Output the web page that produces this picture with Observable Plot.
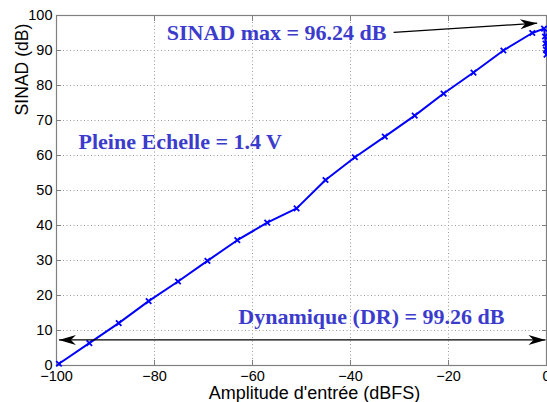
<!DOCTYPE html>
<html><head><meta charset="utf-8">
<script src="https://cdn.jsdelivr.net/npm/d3@7"></script>
<script src="https://cdn.jsdelivr.net/npm/@observablehq/plot@0.6"></script>
<style>body{margin:0;background:#fff}</style>
</head><body><div id="chart"></div>
<script>
// Data
const amplitude = [-99.5, -93.3, -87.3, -81.2, -75.2, -69.2, -63.1, -57.0, -51.0, -45.1, -39.1, -33.0, -26.9, -21.0, -14.9, -8.8, -2.9, -0.5, -0.3, -0.2, -0.1, 0];
const sinad     = [0.5, 6.4, 12.1, 18.4, 24.0, 29.9, 35.8, 40.8, 44.9, 53.0, 59.5, 65.4, 71.4, 77.7, 83.7, 90.0, 95.0, 96.24, 94.0, 92.0, 90.2, 88.8];
const xTicks = [-100, -80, -60, -40, -20, 0];
const yTicks = [0, 10, 20, 30, 40, 50, 60, 70, 80, 90, 100];
const xLabel = "Amplitude d'entrée (dBFS)";
const yLabel = "SINAD (dB)";
const noteText = ["SINAD max = 96.24 dB", "Pleine Echelle = 1.4 V", "Dynamique (DR) = 99.26 dB"];
const noteX = [-77.5, -95.5, -62.9];
const noteY = [95.0, 64.0, 13.9];
// arrows
const maxArrowX = [-31.2, -1.9];
const maxArrowY = [95.2, 97.8];
const drArrowX = [-99.5, -0.2];
const drArrowY = 7.3;

const W = 547, H = 402, ML = 56, MR = 1, MT = 15, MB = 37;
const points = amplitude.map((x, i) => ({x, y: sinad[i]}));
const notes = noteText.map((t, i) => ({t, x: noteX[i], y: noteY[i]}));

const sx = Plot.scale({x: {domain: [-100, 0], range: [ML, W - MR]}});
const sy = Plot.scale({y: {domain: [0, 100], range: [H - MB, MT]}});
const ang = Math.atan2(sy.apply(maxArrowY[1]) - sy.apply(maxArrowY[0]), sx.apply(maxArrowX[1]) - sx.apply(maxArrowX[0])) * 180 / Math.PI;

const head = {draw(ctx) { const L = 17, Wd = 5, N = 12; ctx.moveTo(0, 0); ctx.lineTo(-L, -Wd); ctx.lineTo(-N, 0); ctx.lineTo(-L, Wd); ctx.closePath(); }};
const heads = [
  {x: maxArrowX[1], y: maxArrowY[1], r: ang},
  {x: drArrowX[0], y: drArrowY, r: 180},
  {x: drArrowX[1], y: drArrowY, r: 0}
];
const tickFont = {fontFamily: "Liberation Sans, Arial, sans-serif", fontSize: 14.5};
const blue = "#3c3ccc";

const plot = Plot.plot({
  width: W, height: H,
  marginLeft: ML, marginRight: MR, marginTop: MT, marginBottom: MB,
  style: {background: "#fff", color: "#000", fontFamily: "Liberation Sans, Arial, sans-serif", fontSize: "14.5px", overflow: "visible"},
  x: {domain: [-100, 0], ticks: xTicks, label: null},
  y: {domain: [0, 100], ticks: yTicks, label: null},
  marks: [
    Plot.gridX(xTicks, {stroke: "#9a9a9a", strokeOpacity: 1, strokeDasharray: "1,2.5"}),
    Plot.gridY(yTicks, {stroke: "#9a9a9a", strokeOpacity: 1, strokeDasharray: "1,2.5"}),
    Plot.frame({stroke: "#808080", strokeWidth: 1.2}),
    Plot.axisX(xTicks, {anchor: "bottom", tickSize: -5, tickFormat: () => "", stroke: "#808080", label: null}),
    Plot.axisX(xTicks, {anchor: "top", tickSize: -5, tickFormat: () => "", stroke: "#808080", label: null}),
    Plot.axisY(yTicks, {anchor: "left", tickSize: -5, tickFormat: () => "", stroke: "#808080", label: null}),
    Plot.axisY(yTicks, {anchor: "right", tickSize: -5, tickFormat: () => "", stroke: "#808080", label: null}),
    Plot.axisX(xTicks, {anchor: "bottom", tickSize: 0, tickPadding: 5, label: null, fill: "#000", ...tickFont}),
    Plot.axisY(yTicks, {anchor: "left", tickSize: 0, tickPadding: 4, label: null, fill: "#000", ...tickFont}),
    Plot.text([xLabel], {frameAnchor: "bottom", lineAnchor: "middle", textAnchor: "middle", dx: 13, dy: 28, fontSize: 18, letterSpacing: "0.7px", fill: "#000"}),
    Plot.text([yLabel], {frameAnchor: "top-left", lineAnchor: "middle", textAnchor: "middle", dx: -34.5, dy: 54, rotate: -90, fontSize: 17.6, fill: "#000"}),
    Plot.line(points, {x: "x", y: "y", stroke: "#0000ff", strokeWidth: 2}),
    Plot.dot(points, {x: "x", y: "y", symbol: "times", r: 2.6, stroke: "#0000ff", strokeWidth: 1.8}),
    Plot.link([{x1: maxArrowX[0], y1: maxArrowY[0], x2: maxArrowX[1], y2: maxArrowY[1]}], {x1: "x1", y1: "y1", x2: "x2", y2: "y2", stroke: "#000", strokeWidth: 1.3}),
    Plot.link([{x1: drArrowX[0], x2: drArrowX[1], y: drArrowY}], {x1: "x1", x2: "x2", y1: "y", y2: "y", stroke: "#000", strokeWidth: 1.3}),
    Plot.dot(heads, {x: "x", y: "y", rotate: "r", symbol: head, r: 5, fill: "#000", stroke: "none"}),
    Plot.text(notes, {x: "x", y: "y", text: "t", textAnchor: "start", lineAnchor: "middle", fill: blue, fontFamily: "Liberation Serif, Times New Roman, serif", fontWeight: "bold", fontSize: 22})
  ]
});
document.getElementById("chart").appendChild(plot);
</script>
</body></html>
